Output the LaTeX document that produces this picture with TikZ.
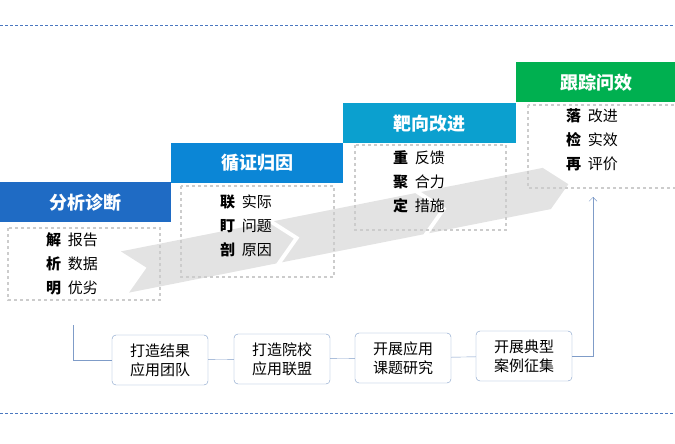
\documentclass[tikz,border=0pt]{standalone}
\usepackage{fontspec}
\setmainfont{Noto Sans CJK SC}
\usetikzlibrary{positioning,arrows.meta}
\definecolor{headA}{HTML}{1F6BC4}
\definecolor{headB}{HTML}{0B86D6}
\definecolor{headC}{HTML}{0BA0CF}
\definecolor{headD}{HTML}{00B050}
\definecolor{flowline}{HTML}{7F9CC8}
\definecolor{sepline}{HTML}{4A78C0}
\begin{document}
\begin{tikzpicture}[x=1pt,y=-1pt,font=\fontsize{11}{13}\selectfont]
  \tikzstyle{head box}=[minimum height=40pt,inner sep=0pt,text=white,font=\fontsize{18}{20}\selectfont\bfseries]
  \tikzstyle{info box}=[draw=gray!40,dashed,line width=1.2pt]
  \tikzstyle{step box}=[draw=flowline,rounded corners=4pt,fill=white,minimum width=96pt,minimum height=50pt,align=center,inner sep=1pt,font=\fontsize{15}{19}\selectfont]
  \tikzstyle{item}=[align=left,anchor=north west,inner sep=0pt,font=\fontsize{15}{24}\selectfont]
  \useasboundingbox (0,0) rectangle (675,444);
  % separators
  \draw[sepline,densely dashed,line width=0.4pt] (0,25) -- (675,25);
  \draw[sepline,densely dashed,line width=0.4pt] (0,413) -- (675,413);
  % grey arrow band
  \begin{scope}[shift={(125,272)},rotate=11.2]
    \foreach \a/\b in {0/150,156/300,306/430}
      \fill[gray!22] (\a,-21) -- (\b,-21) -- (\b+22,0) -- (\b,21) -- (\a,21) -- (\a+22,0) -- cycle;
  \end{scope}
  % headers
  \node[head box,fill=headA,minimum width=171pt,anchor=north west] (h1) at (0,182) {分析诊断};
  \node[head box,fill=headB,minimum width=172pt,anchor=north west] (h2) at (171,143) {循证归因};
  \node[head box,fill=headC,minimum width=173pt,anchor=north west] (h3) at (343,103) {靶向改进};
  \node[head box,fill=headD,minimum width=160pt,anchor=north west] (h4) at (516,62) {跟踪问效};
  % dashed boxes
  \draw[info box] (8,228) rectangle (160,300);
  \draw[info box] (181,186) rectangle (334,277);
  \draw[info box] (355,145) rectangle (506,230);
  \draw[info box] (528,105) rectangle (680,188);
  % items
  \node[item] (t1) at (46,232) {\textbf{解}\ \ 报告\\\textbf{析}\ \ 数据\\\textbf{明}\ \ 优劣};
  \node[item] (t2) at (220,195) {\textbf{联}\ \ 实际\\\textbf{盯}\ \ 问题\\\textbf{剖}\ \ 原因};
  \node[item] (t3) at (393,150) {\textbf{重}\ \ 反馈\\\textbf{聚}\ \ 合力\\\textbf{定}\ \ 措施};
  \node[item] (t4) at (566,108) {\textbf{落}\ \ 改进\\\textbf{检}\ \ 实效\\\textbf{再}\ \ 评价};
  % flow of steps
  \node[step box] (s1) at (160,360) {打造结果\\应用团队};
  \node[step box] (s2) at (282,359) {打造院校\\应用联盟};
  \node[step box] (s3) at (403,358) {开展应用\\课题研究};
  \node[step box] (s4) at (524,356) {开展典型\\案例征集};
  \coordinate (start) at (73,325);
  \coordinate (goal) at (593,197);
  \draw[flowline] (start) |- (s1.west);
  \draw[flowline] (s1) -- (s2);
  \draw[flowline] (s2) -- (s3);
  \draw[flowline] (s3) -- (s4);
  \draw[flowline,-{Straight Barb[length=4pt]}] (s4.east) -| (goal);
\end{tikzpicture}
\end{document}
